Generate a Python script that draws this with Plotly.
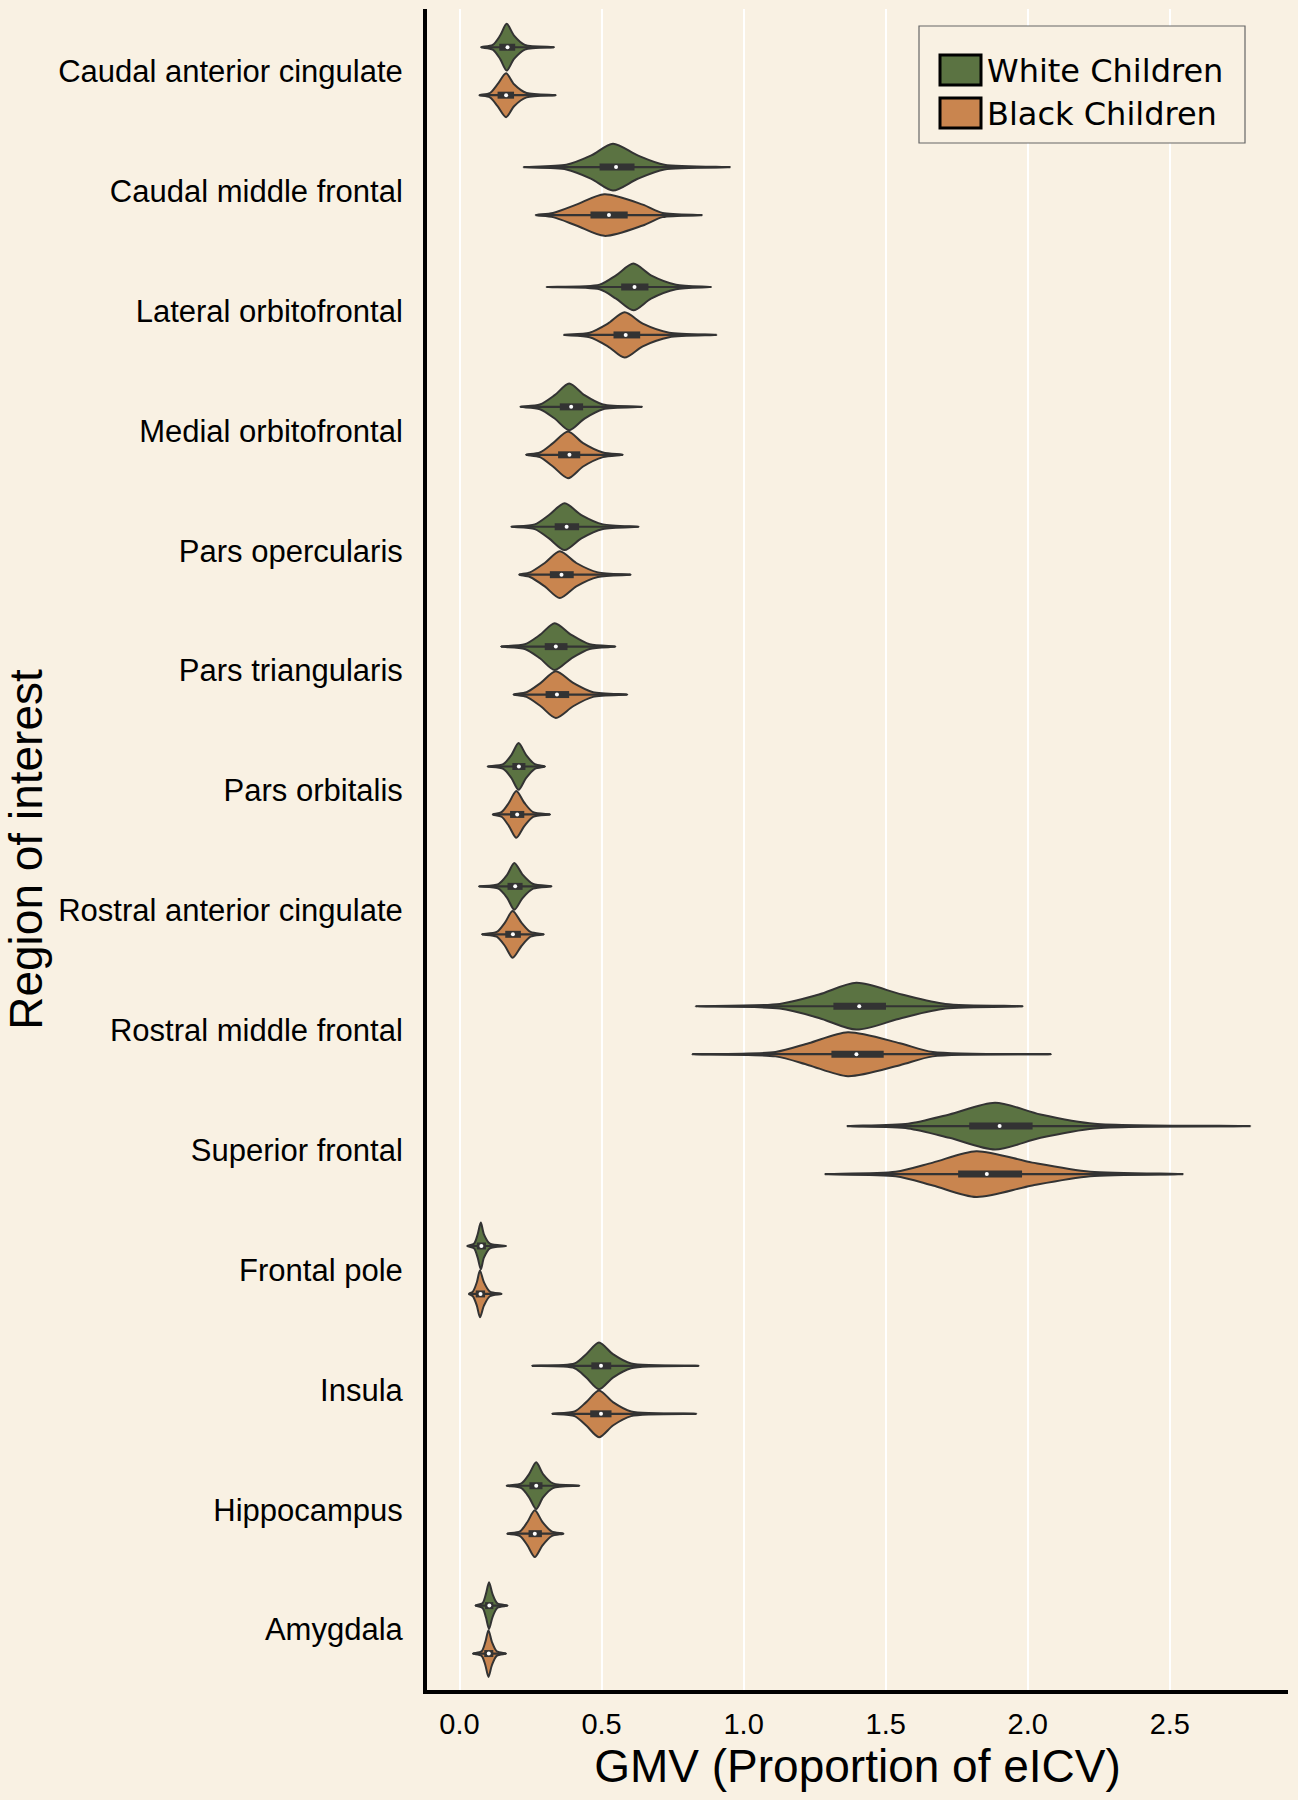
import plotly.graph_objects as go

# ---------------- data ----------------
regions = ["Caudal anterior cingulate", "Caudal middle frontal", "Lateral orbitofrontal",
           "Medial orbitofrontal", "Pars opercularis", "Pars triangularis", "Pars orbitalis",
           "Rostral anterior cingulate", "Rostral middle frontal", "Superior frontal",
           "Frontal pole", "Insula", "Hippocampus", "Amygdala"]

groups = ["White Children", "Black Children"]

# White children
white_min = [0.076, 0.225, 0.306, 0.214, 0.182, 0.146, 0.099, 0.068, 0.831, 1.364, 0.027, 0.255, 0.166, 0.056]
white_q1 = [0.140, 0.493, 0.569, 0.353, 0.335, 0.300, 0.186, 0.169, 1.316, 1.794, 0.061, 0.464, 0.246, 0.090]
white_median = [0.169, 0.551, 0.616, 0.393, 0.377, 0.339, 0.209, 0.196, 1.407, 1.901, 0.077, 0.498, 0.270, 0.105]
white_q3 = [0.196, 0.616, 0.665, 0.435, 0.421, 0.380, 0.232, 0.222, 1.501, 2.017, 0.093, 0.534, 0.292, 0.119]
white_max = [0.333, 0.953, 0.886, 0.643, 0.631, 0.549, 0.301, 0.324, 1.983, 2.784, 0.164, 0.842, 0.422, 0.169]
# density profile: x where the violin reaches 10 %, 50 %, 100 % of its peak width
white_mode = [0.166, 0.540, 0.612, 0.386, 0.370, 0.335, 0.208, 0.193, 1.397, 1.885, 0.075, 0.491, 0.270, 0.104]
white_half_lo = [0.143, 0.464, 0.551, 0.335, 0.315, 0.283, 0.183, 0.168, 1.265, 1.724, 0.064, 0.446, 0.245, 0.093]
white_half_hi = [0.192, 0.627, 0.674, 0.440, 0.429, 0.394, 0.234, 0.222, 1.557, 2.045, 0.086, 0.540, 0.294, 0.116]
white_tenth_lo = [0.117, 0.376, 0.493, 0.283, 0.265, 0.230, 0.154, 0.137, 1.127, 1.579, 0.051, 0.405, 0.218, 0.081]
white_tenth_hi = [0.230, 0.721, 0.762, 0.505, 0.505, 0.458, 0.265, 0.259, 1.710, 2.235, 0.107, 0.604, 0.329, 0.133]
white_peak = [1.0, 1.0, 1.0, 1.0, 1.0, 1.0, 1.0, 1.0, 1.0, 1.0, 1.0, 1.0, 1.0, 1.0]

# Black children
black_min = [0.070, 0.268, 0.367, 0.234, 0.210, 0.190, 0.117, 0.079, 0.819, 1.286, 0.033, 0.326, 0.168, 0.047]
black_q1 = [0.134, 0.461, 0.542, 0.347, 0.318, 0.303, 0.178, 0.161, 1.309, 1.755, 0.057, 0.460, 0.243, 0.087]
black_median = [0.164, 0.526, 0.585, 0.387, 0.359, 0.343, 0.203, 0.188, 1.397, 1.856, 0.074, 0.498, 0.265, 0.103]
black_q3 = [0.192, 0.592, 0.636, 0.425, 0.402, 0.386, 0.228, 0.216, 1.493, 1.980, 0.090, 0.535, 0.290, 0.119]
black_max = [0.339, 0.854, 0.905, 0.575, 0.603, 0.591, 0.319, 0.297, 2.082, 2.547, 0.148, 0.834, 0.366, 0.164]
black_mode = [0.164, 0.510, 0.581, 0.382, 0.353, 0.339, 0.200, 0.187, 1.367, 1.819, 0.072, 0.491, 0.265, 0.102]
black_half_lo = [0.134, 0.411, 0.522, 0.329, 0.300, 0.286, 0.174, 0.160, 1.229, 1.666, 0.061, 0.446, 0.239, 0.091]
black_half_hi = [0.192, 0.645, 0.645, 0.435, 0.411, 0.400, 0.228, 0.218, 1.550, 2.016, 0.086, 0.540, 0.292, 0.114]
black_tenth_lo = [0.107, 0.329, 0.458, 0.283, 0.248, 0.236, 0.148, 0.131, 1.112, 1.535, 0.047, 0.405, 0.213, 0.078]
black_tenth_hi = [0.236, 0.715, 0.738, 0.505, 0.487, 0.470, 0.259, 0.250, 1.666, 2.220, 0.107, 0.604, 0.324, 0.131]
black_peak = [0.94, 0.89, 0.97, 1.0, 1.0, 1.0, 1.0, 1.0, 0.94, 0.98, 1.0, 1.0, 1.0, 1.0]

x_ticks = [0.0, 0.5, 1.0, 1.5, 2.0, 2.5]
x_tick_labels = ["0.0", "0.5", "1.0", "1.5", "2.0", "2.5"]

# ---------------- style ----------------
BG = "#F9F1E3"
COLORS = {"White Children": "#5B7342", "Black Children": "#C9854F"}
EDGE = "#333333"
DODGE = {"White Children": -0.2, "Black Children": 0.2}
MAX_HALF = 0.195
LEVELS = [0.0, 0.1, 0.5, 1.0, 0.5, 0.1, 0.0]

W, H = 1298, 1800
L_M, R_M, T_M, B_M = 427, 10, 9, 110

series = {
    "White Children": dict(mn=white_min, q1=white_q1, med=white_median, q3=white_q3, mx=white_max,
                           mode=white_mode, hl=white_half_lo, hh=white_half_hi,
                           tl=white_tenth_lo, th=white_tenth_hi, pk=white_peak),
    "Black Children": dict(mn=black_min, q1=black_q1, med=black_median, q3=black_q3, mx=black_max,
                           mode=black_mode, hl=black_half_lo, hh=black_half_hi,
                           tl=black_tenth_lo, th=black_tenth_hi, pk=black_peak),
}

fig = go.Figure()

# violin bodies
for g in groups:
    s = series[g]
    for i, name in enumerate(regions):
        yc = i + DODGE[g]
        xs = [s["mn"][i], s["tl"][i], s["hl"][i], s["mode"][i], s["hh"][i], s["th"][i], s["mx"][i]]
        ws = [lv * MAX_HALF * s["pk"][i] for lv in LEVELS]
        px = xs + xs[::-1][1:]
        py = [yc - w for w in ws] + [yc + w for w in ws[::-1][1:]]
        fig.add_trace(go.Scatter(
            x=px, y=py, mode="lines", fill="toself", fillcolor=COLORS[g],
            line=dict(color=EDGE, width=2, shape="spline", smoothing=0.8),
            name=g, legendgroup=g, showlegend=False, hoverinfo="skip"))

# inner box: whisker line, IQR box, median dot
for g in groups:
    s = series[g]
    wx, wy, bx, by, mxs, mys = [], [], [], [], [], []
    for i in range(len(regions)):
        yc = i + DODGE[g]
        wx += [s["mn"][i], s["mx"][i], None]
        wy += [yc, yc, None]
        bx += [s["q1"][i], s["q3"][i], None]
        by += [yc, yc, None]
        mxs.append(s["med"][i])
        mys.append(yc)
    fig.add_trace(go.Scatter(x=wx, y=wy, mode="lines", line=dict(color=EDGE, width=2.2),
                             showlegend=False, hoverinfo="skip"))
    fig.add_trace(go.Scatter(x=bx, y=by, mode="lines", line=dict(color=EDGE, width=7),
                             showlegend=False, hoverinfo="skip"))
    fig.add_trace(go.Scatter(x=mxs, y=mys, mode="markers",
                             marker=dict(color="white", size=4, line=dict(width=0)),
                             showlegend=False, hoverinfo="skip"))

# ---------------- manual legend (matplotlib style) ----------------
plot_w = W - L_M - R_M
plot_h = H - T_M - B_M


def pxx(p):
    return (p - L_M) / plot_w


def pxy(p):
    return (H - B_M - p) / plot_h


shapes = [dict(type="rect", xref="paper", yref="paper",
               x0=pxx(919), x1=pxx(1245), y0=pxy(143), y1=pxy(26),
               line=dict(color="#666666", width=1.2), fillcolor=BG, layer="above")]
annotations = []
for k, g in enumerate(groups):
    cy = 70 + 43 * k
    shapes.append(dict(type="rect", xref="paper", yref="paper",
                       x0=pxx(940), x1=pxx(981), y0=pxy(cy + 15), y1=pxy(cy - 15),
                       line=dict(color="black", width=3), fillcolor=COLORS[g], layer="above"))
    annotations.append(dict(xref="paper", yref="paper", x=pxx(985), y=pxy(cy + 1),
                            xanchor="left", yanchor="middle", text=g, showarrow=False,
                            font=dict(family="DejaVu Sans", size=32, color="black")))

fig.update_layout(
    width=W, height=H,
    margin=dict(l=L_M, r=R_M, t=T_M, b=B_M),
    paper_bgcolor=BG, plot_bgcolor=BG,
    showlegend=False,
    shapes=shapes, annotations=annotations,
    font=dict(family="Liberation Sans, Arial, sans-serif", color="black"),
    xaxis=dict(
        range=[-0.1144, 2.916], tickvals=x_ticks, ticktext=x_tick_labels,
        showgrid=True, gridcolor="white", gridwidth=1.5, zeroline=False,
        showline=True, linecolor="black", linewidth=4,
        ticks="", ticklabelstandoff=5,
        tickfont=dict(size=29, color="black"),
        title=dict(text="GMV (Proportion of eICV)", font=dict(size=46, color="black"), standoff=4),
    ),
    yaxis=dict(
        range=[13.504, -0.519], tickvals=list(range(len(regions))), ticktext=regions,
        showgrid=False, zeroline=False,
        showline=True, linecolor="black", linewidth=4,
        ticks="", ticklabelstandoff=14,
        tickfont=dict(size=31, color="black"),
        title=dict(text="Region of interest", font=dict(size=46, color="black"), standoff=8),
    ),
)

fig.write_html(
    "out.html",
    config={"displayModeBar": False},
    post_script="document.body.style.margin='0';document.body.style.background='%s';"
                "document.documentElement.style.background='%s';" % (BG, BG),
)
